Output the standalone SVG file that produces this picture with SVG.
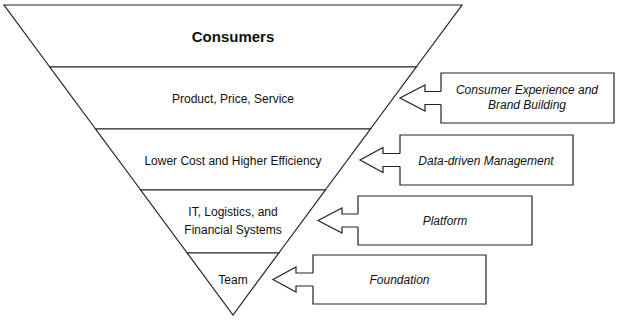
<svg xmlns="http://www.w3.org/2000/svg" width="623" height="324" viewBox="0 0 623 324">
<style>
.layer{fill:#fff;stroke:#222;stroke-width:1.2;stroke-linejoin:miter}
.box{fill:#fff;stroke:#222;stroke-width:1.2}
.arrow{fill:#fff;stroke:#222;stroke-width:1.2;stroke-linejoin:miter}
.t{font-family:"Liberation Sans",Arial,sans-serif;font-size:12px;fill:#111;text-anchor:middle}
.ti{font-family:"Liberation Sans",Arial,sans-serif;font-size:12px;fill:#111;text-anchor:middle;font-style:italic}
.tb{font-family:"Liberation Sans",Arial,sans-serif;font-size:15px;font-weight:bold;fill:#111;text-anchor:middle}
</style>
<rect width="623" height="324" fill="#fff"/>
<g id="layer-consumers">
<polygon class="layer" points="4,5 462,5 416.2,67 49.8,67"/>
<text class="tb" x="233" y="42">Consumers</text>
</g>
<g id="layer-product">
<polygon class="layer" points="49.8,67 416.2,67 370.4,129 95.6,129"/>
<text class="t" x="233" y="103">Product, Price, Service</text>
</g>
<g id="layer-cost">
<polygon class="layer" points="95.6,129 370.4,129 325.3,190 140.7,190"/>
<text class="t" x="233" y="165">Lower Cost and Higher Efficiency</text>
</g>
<g id="layer-it">
<polygon class="layer" points="140.7,190 325.3,190 278.8,253 187.2,253"/>
<text class="t" x="233" y="216">IT, Logistics, and</text>
<text class="t" x="233" y="234">Financial Systems</text>
</g>
<g id="layer-team">
<polygon class="layer" points="187.2,253 278.8,253 233,315"/>
<text class="t" x="233" y="284">Team</text>
</g>
<g id="connectors">
<polyline class="arrow" points="441,91.5 425,91.5 425,85 400,98 425,111 425,104.5 441,104.5"/>
<polyline class="arrow" points="400,153.5 383,153.5 383,147.5 360,160 383,172.5 383,166.5 400,166.5"/>
<polyline class="arrow" points="358,214 342,214 342,208 318,220.5 342,233 342,227 358,227"/>
<polyline class="arrow" points="313,273 296,273 296,267 273,279.5 296,292 296,286 313,286"/>
</g>
<g id="box-consumer-experience">
<path class="box" d="M441,91.5 V73 H614 V123 H441 V104.5"/>
<text class="ti" x="527" y="94">Consumer Experience and</text>
<text class="ti" x="527" y="109">Brand Building</text>
</g>
<g id="box-data-driven">
<path class="box" d="M400,153.5 V135 H573 V185 H400 V166.5"/>
<text class="ti" x="486" y="164.5">Data-driven Management</text>
</g>
<g id="box-platform">
<path class="box" d="M358,214 V196 H532 V245 H358 V227"/>
<text class="ti" x="445" y="225">Platform</text>
</g>
<g id="box-foundation">
<path class="box" d="M313,273 V255 H486 V304 H313 V286"/>
<text class="ti" x="399.5" y="284">Foundation</text>
</g>
</svg>
